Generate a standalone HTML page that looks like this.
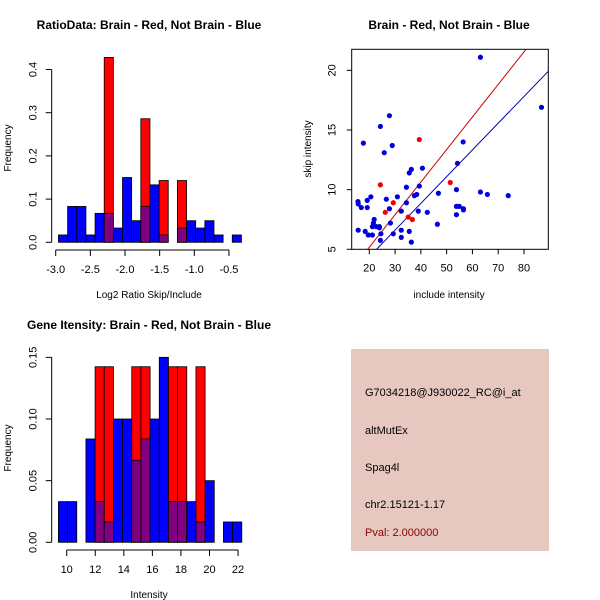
<!DOCTYPE html>
<html><head><meta charset="utf-8"><style>
body{margin:0;background:#fff}
svg{display:block;font-family:"Liberation Sans",Arial,sans-serif}
</style></head><body>
<svg id="s" width="600" height="600" viewBox="0 0 600 600" xmlns="http://www.w3.org/2000/svg">
<rect width="600" height="600" fill="#fff"/>
<rect x="351" y="349" width="198" height="202" fill="#e6c8c0"/>
<g font-size="11" fill="#000">
<text x="365" y="396">G7034218@J930022_RC@i_at</text>
<text x="365" y="434">altMutEx</text>
<text x="365" y="471">Spag4l</text>
<text x="365" y="508">chr2.15121-1.17</text>
<text x="365" y="536" fill="#8b0000">Pval: 2.000000</text>
</g>
</svg>
<script>
// ---- Histogram 1 data (ratio) ----
const ratioStart = -2.96;
const ratioBinWidth = 0.132;
const ratioBlue = [0.017,0.083,0.083,0.017,0.067,0.067,0.033,0.15,0.05,0.083,0.133,0.017,0,0.033,0.05,0.033,0.05,0.017,0,0.017];
const ratioRed  = [0,0,0,0,0,0.428,0,0,0,0.286,0,0.143,0,0.143,0,0,0,0,0,0];
const ratioXTicks = [-3.0,-2.5,-2.0,-1.5,-1.0,-0.5];
const ratioXTickLabels = ["-3.0","-2.5","-2.0","-1.5","-1.0","-0.5"];
const ratioYTicks = [0,0.1,0.2,0.3,0.4];
const ratioYTickLabels = ["0.0","0.1","0.2","0.3","0.4"];
// ---- Histogram 2 data (intensity) ----
const intStart = 9.42;
const intBinWidth = 0.642;
const intBlue = [0.033,0.033,0,0.0838,0.033,0.0165,0.1,0.1,0.0665,0.0838,0.1,0.15,0.033,0.033,0.033,0.0165,0.05,0,0.0165,0.0165];
const intRed  = [0,0,0,0,0.1424,0.1424,0,0,0.1424,0.1424,0,0,0.1424,0.1424,0,0.1424,0,0,0,0];
const intXTicks = [10,12,14,16,18,20,22];
const intXTickLabels = ["10","12","14","16","18","20","22"];
const intYTicks = [0,0.05,0.10,0.15];
const intYTickLabels = ["0.00","0.05","0.10","0.15"];
// ---- Scatter data ----
const blueX = [63.1,86.8,27.8,24.3,17.7,28.9,25.8,56.4,54.2,40.6,36.3,35.5,39.4,34.4,53.8,63.1,65.8,73.9,46.8,38.4,37.5,20.6,30.9,26.6,15.6,19.2,15.7,34.4,16.9,19.2,27.8,53.8,54.9,56.5,56.5,32.4,39.0,42.5,53.8,21.9,21.6,28.2,46.4,21.2,22.7,23.9,23.9,15.7,18.4,32.4,35.5,19.6,21.2,24.5,29.3,32.4,24.3,36.3];
const blueY = [21.1,16.9,16.2,15.3,13.9,13.7,13.1,14.0,12.2,11.8,11.7,11.4,10.3,10.2,10.0,9.8,9.6,9.5,9.7,9.6,9.5,9.4,9.4,9.2,9.0,9.1,8.8,8.9,8.5,8.5,8.4,8.6,8.6,8.4,8.3,8.2,8.2,8.1,7.9,7.5,7.2,7.2,7.1,6.9,6.9,6.9,6.8,6.6,6.5,6.6,6.5,6.2,6.2,6.3,6.3,6.0,5.75,5.6];
const redX = [39.4,24.3,51.4,29.3,26.2,35.1,36.7];
const redY = [14.2,10.4,10.6,8.9,8.1,7.7,7.5];
const fitRed = [-0.29,0.273];   // intercept, slope
const fitBlue = [-0.11,0.224];
const scXTicks = [20,30,40,50,60,70,80];
const scXTickLabels = ["20","30","40","50","60","70","80"];
const scYTicks = [5,10,15,20];
const scYTickLabels = ["5","10","15","20"];

const NS="http://www.w3.org/2000/svg";
const svg=document.getElementById('s');
function mk(tag,attrs,parent){const e=document.createElementNS(NS,tag);for(const k in attrs)e.setAttribute(k,attrs[k]);(parent||svg).appendChild(e);return e;}
function txt(x,y,s,o,parent){const e=mk('text',Object.assign({x:x,y:y,'text-anchor':'middle','font-size':11},o||{}),parent);e.textContent=s;return e;}

function hist(cfg){
  const g=mk('g',{});
  
  
  const sx=v=>cfg.x0+(v-cfg.d0)*cfg.kx, sy=v=>cfg.y0-v*cfg.ky;
  for(let i=0;i<cfg.blue.length;i++){
    const a=cfg.start+i*cfg.bw, b=a+cfg.bw;
    const x1=sx(a), x2=sx(b), bv=cfg.blue[i], rv=cfg.red[i];
    const mx=Math.max(bv,rv), mn=Math.min(bv,rv);
    if(mx<=0) continue;
    const top=mk('rect',{x:x1,y:sy(mx),width:x2-x1,height:sy(0)-sy(mx),fill:rv>bv?'#ff0000':'#0000ff',stroke:'#000','stroke-width':0.8},g);
    
    
    if(mn>0){
      const o=mk('rect',{x:x1,y:sy(mn),width:x2-x1,height:sy(0)-sy(mn),fill:'#800080',stroke:'#000','stroke-width':0.8},g);
      
      
    }
  }
  const ax=mk('g',{},g);
  
  
  mk('line',{x1:sx(cfg.xt[0]),x2:sx(cfg.xt[cfg.xt.length-1]),y1:cfg.xAxisY,y2:cfg.xAxisY,stroke:'#000'},ax);
  cfg.xt.forEach((v,i)=>{mk('line',{x1:sx(v),x2:sx(v),y1:cfg.xAxisY,y2:cfg.xAxisY+6,stroke:'#000'},ax);txt(sx(v),cfg.xAxisY+23,cfg.xl[i],{},ax);});
  const ay=mk('g',{},g);
  
  
  mk('line',{x1:cfg.yAxisX,x2:cfg.yAxisX,y1:sy(cfg.yt[0]),y2:sy(cfg.yt[cfg.yt.length-1]),stroke:'#000'},ay);
  cfg.yt.forEach((v,i)=>{mk('line',{x1:cfg.yAxisX,x2:cfg.yAxisX-6,y1:sy(v),y2:sy(v),stroke:'#000'},ay);txt(0,0,cfg.yl[i],{transform:`translate(${cfg.yAxisX-15},${sy(v)}) rotate(-90)`},ay);});
  const t=txt(cfg.titleX,cfg.titleY,cfg.title,{'font-weight':'bold','font-size':12},g);
  
  
  const xl=txt(cfg.xlabX,cfg.xlabY,cfg.xlab,{'font-size':10},g);
  
  
  const yl=txt(0,0,'Frequency',{'font-size':10,transform:`translate(11,${cfg.ylabY}) rotate(-90)`},g);
  
  
}

hist({name:'ratio-histogram',d0:-3.0,x0:55.7,kx:69.3,y0:242.3,ky:432,start:ratioStart,bw:ratioBinWidth,blue:ratioBlue,red:ratioRed,
  xt:ratioXTicks,xl:ratioXTickLabels,yt:ratioYTicks,yl:ratioYTickLabels,xAxisY:250,yAxisX:51.7,
  title:'RatioData: Brain - Red, Not Brain - Blue',titleX:149,titleY:29,xlab:'Log2 Ratio Skip/Include',xlabX:149,xlabY:298,ylabY:148});
hist({name:'intensity-histogram',d0:10,x0:66.7,kx:14.28,y0:542.3,ky:1233,start:intStart,bw:intBinWidth,blue:intBlue,red:intRed,
  xt:intXTicks,xl:intXTickLabels,yt:intYTicks,yl:intYTickLabels,xAxisY:550,yAxisX:51.7,
  title:'Gene Itensity: Brain - Red, Not Brain - Blue',titleX:149,titleY:329,xlab:'Intensity',xlabX:149,xlabY:598,ylabY:448});

(function(){
  const g=mk('g',{});
  
  
  const L=351.7,R=548.3,T=49.3,B=249.3;
  const sx=v=>369.3+(v-20)*2.578, sy=v=>249.3-(v-5)*11.93;
  const cp=mk('clipPath',{id:'cp'},g);mk('rect',{x:L,y:T,width:R-L,height:B-T},cp);
  function fit(f,col,name){
    const x1=10,x2=95;
    const l=mk('line',{x1:sx(x1),y1:sy(f[0]+f[1]*x1),x2:sx(x2),y2:sy(f[0]+f[1]*x2),stroke:col,'stroke-width':1,'clip-path':'url(#cp)'},g);
    
    
  }
  fit(fitRed,'#cc0000','brain-fit-line');
  fit(fitBlue,'#0000aa','not-brain-fit-line');
  blueX.forEach((x,i)=>{const c=mk('circle',{cx:sx(x),cy:sy(blueY[i]),r:2.6,fill:'#0000dd'},g);
    
    });
  redX.forEach((x,i)=>{const c=mk('circle',{cx:sx(x),cy:sy(redY[i]),r:2.6,fill:'#ee0000'},g);
    
    });
  const box=mk('rect',{x:L,y:T,width:R-L,height:B-T,fill:'none',stroke:'#000'},g);
  
  
  scXTicks.forEach((v,i)=>{mk('line',{x1:sx(v),x2:sx(v),y1:B,y2:B+5,stroke:'#000'},g);txt(sx(v),B+22,scXTickLabels[i],{},g);});
  scYTicks.forEach((v,i)=>{mk('line',{x1:L,x2:L-5,y1:sy(v),y2:sy(v),stroke:'#000'},g);txt(0,0,scYTickLabels[i],{transform:`translate(${L-16},${sy(v)}) rotate(-90)`},g);});
  const t=txt(449,29,'Brain - Red, Not Brain - Blue',{'font-weight':'bold','font-size':12},g);
  
  
  const xl=txt(449,298,'include intensity',{'font-size':10},g);
  
  
  const yl=txt(0,0,'skip intensity',{'font-size':10,transform:'translate(311,149) rotate(-90)'},g);
  
  
})();
</script>
</body></html>
